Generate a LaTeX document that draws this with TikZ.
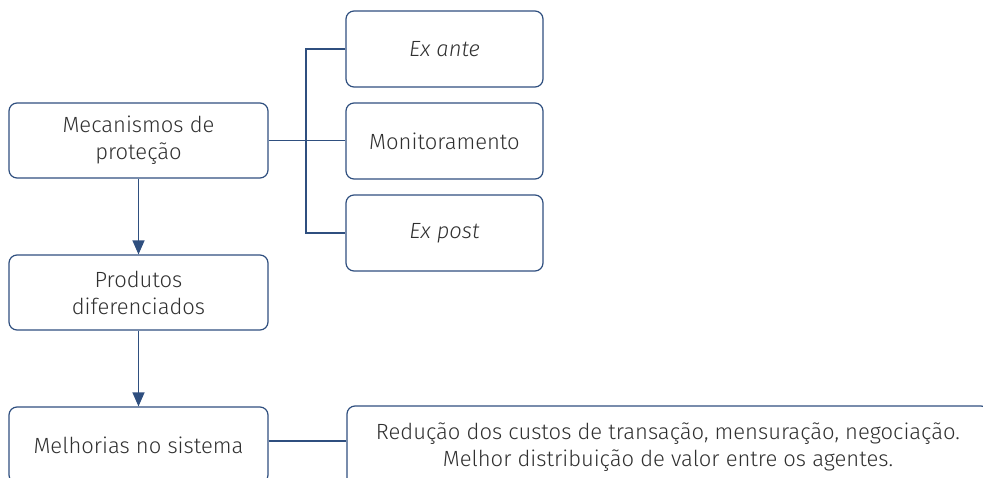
\documentclass[tikz,border=0pt]{standalone}
\usepackage{fontspec}
\setmainfont{Fira Sans Light}[ItalicFont={Fira Sans Light Italic}]
\usetikzlibrary{arrows.meta}
\definecolor{ln}{HTML}{2F4F7F}
\definecolor{txt}{HTML}{303030}
\begin{document}
\begin{tikzpicture}[x=1pt,y=-1pt,
  box/.style={draw=ln, line width=1.2pt, rounded corners=8pt, align=center, text=txt,
    font=\fontsize{22}{27}\selectfont, inner sep=0pt},
  conn/.style={draw=ln, line width=1.3pt},
  arr/.style={conn, -{Triangle[length=14pt,width=12pt]}}]
\useasboundingbox (0,0) rectangle (983,478);
\clip (0,0) rectangle (983,478);
\node[box, minimum width=259pt, minimum height=75pt] (A) at (138.5,140.5) {Mecanismos de\\proteção};
\node[box, minimum width=259pt, minimum height=75pt] (B) at (138.5,292.5) {Produtos\\diferenciados};
\node[box, minimum width=259pt, minimum height=76pt] (C) at (138.5,445) {Melhorias no sistema};
\node[box, minimum width=197pt, minimum height=76pt] (E1) at (444.5,49) {\itshape Ex ante};
\node[box, minimum width=197pt, minimum height=76pt] (E2) at (444.5,141) {Monitoramento};
\node[box, minimum width=197pt, minimum height=76pt] (E3) at (444.5,233) {\itshape Ex post};
\node[box, minimum width=642pt, minimum height=83pt] (D) at (668,447.5) {Redução dos custos de transação, mensuração, negociação.\\Melhor distribuição de valor entre os agentes.};
\coordinate (bx) at (306,0);
\draw[conn] (A.east) -- (A.east -| E2.west);
\draw[conn] (E1.west) -- (E1.west -| bx) -- (E3.west -| bx) -- (E3.west);
\draw[arr] (A.south) -- (B.north);
\draw[arr] (B.south) -- (C.north);
\draw[conn] ([yshift=4pt]C.east) -- ([yshift=4pt]C.east -| D.west);
\end{tikzpicture}
\end{document}
